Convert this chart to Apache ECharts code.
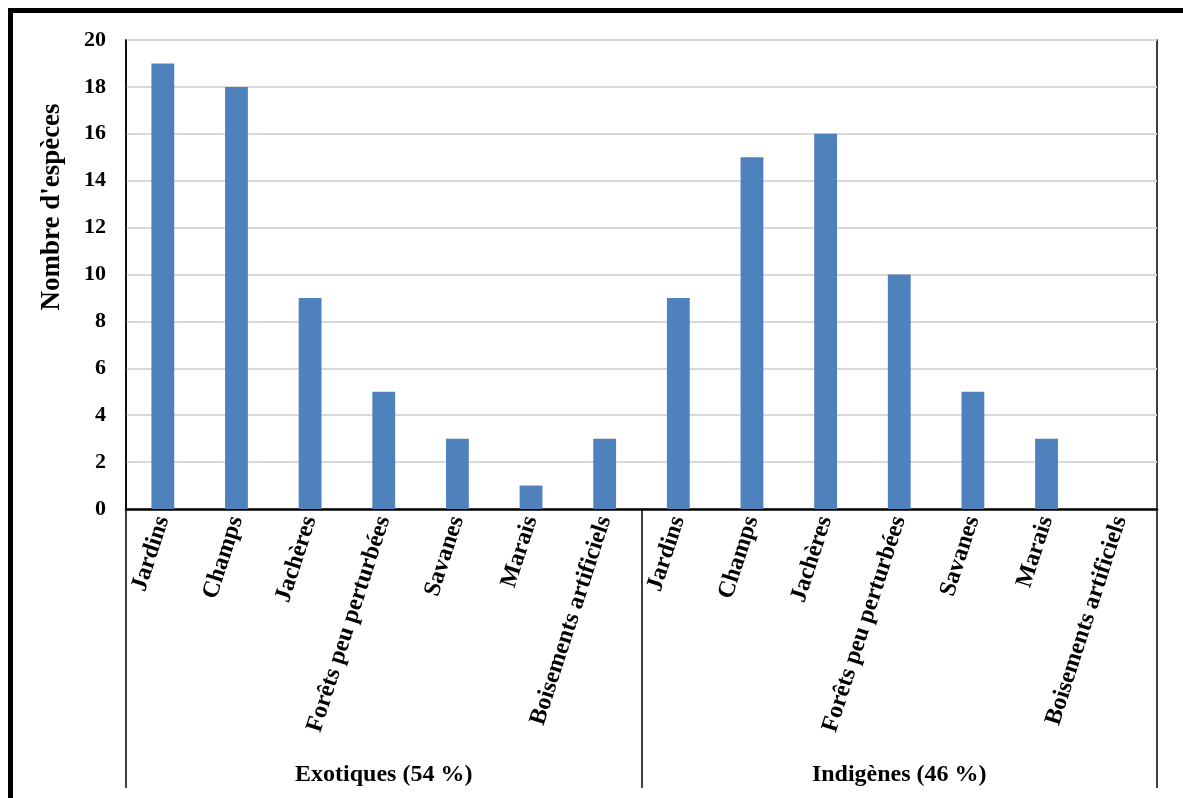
<!DOCTYPE html>
<html>
<head>
<meta charset="utf-8">
<script src="https://cdn.jsdelivr.net/npm/echarts@6/dist/echarts.min.js"></script>
<style>
  html, body { margin: 0; padding: 0; background: #fff; }
  #chart { width: 1183px; height: 798px; }
</style>
</head>
<body>
<div id="chart"></div>
<script>
// Milieux d'observation (repeated for each origin group)
const habitats = ['Jardins', 'Champs', 'Jachères', 'Forêts peu perturbées', 'Savanes', 'Marais', 'Boisements artificiels'];
const groups = ['Exotiques (54 %)', 'Indigènes (46 %)'];
const exotiques = [19, 18, 9, 5, 3, 1, 3];
const indigenes = [9, 15, 16, 10, 5, 3, 0];
const yTicks = { min: 0, max: 20, interval: 2 };
const yName = "Nombre d'espèces";

const FONT = "'Liberation Serif', 'Times New Roman', serif";
const categories = habitats.concat(habitats);
const values = exotiques.concat(indigenes);

const chart = echarts.init(document.getElementById('chart'));
chart.setOption({
  animation: false,
  backgroundColor: '#fff',
  textStyle: { fontFamily: FONT, color: '#000' },
  grid: {
    left: 126, right: 26, top: 40, bottom: 289,
    show: true, borderColor: '#000', borderWidth: 1.5, backgroundColor: 'transparent'
  },
  xAxis: [
    {
      type: 'category',
      data: categories,
      position: 'bottom',
      axisLine: { show: true, lineStyle: { color: '#000', width: 2.5 } },
      axisTick: { show: false },
      axisLabel: {
        interval: 0, rotate: 72, margin: 8,
        fontFamily: FONT, fontWeight: 'bold', fontSize: 24, color: '#000'
      }
    },
    {
      type: 'category',
      data: groups,
      position: 'bottom',
      offset: 0,
      axisLine: { show: false },
      axisTick: { show: true, length: 279, lineStyle: { color: '#000', width: 1.5 } },
      axisLabel: {
        interval: 0, margin: 254,
        fontFamily: FONT, fontWeight: 'bold', fontSize: 24, color: '#000'
      }
    }
  ],
  yAxis: {
    type: 'value',
    min: yTicks.min, max: yTicks.max, interval: yTicks.interval,
    axisLine: { show: true, lineStyle: { color: '#000', width: 1.5 } },
    axisTick: { show: false },
    splitLine: { show: true, lineStyle: { color: '#d9d9d9', width: 2 } },
    axisLabel: {
      margin: 20,
      fontFamily: FONT, fontWeight: 'bold', fontSize: 22, color: '#000'
    }
  },
  series: [{
    type: 'bar',
    xAxisIndex: 0,
    data: values,
    barWidth: '31%',
    itemStyle: { color: '#4f81bd' }
  }],
  graphic: [
    {
      type: 'rect',
      shape: { x: 10.5, y: 10.5, width: 1300, height: 900 },
      style: { fill: 'none', stroke: '#000', lineWidth: 5 },
      silent: true
    },
    {
      type: 'text',
      x: 52, y: 207,
      rotation: Math.PI / 2,
      style: {
        text: yName,
        font: "bold 27px 'Liberation Serif', 'Times New Roman', serif",
        fill: '#000',
        align: 'center',
        verticalAlign: 'middle'
      }
    }
  ]
});
</script>
</body>
</html>
